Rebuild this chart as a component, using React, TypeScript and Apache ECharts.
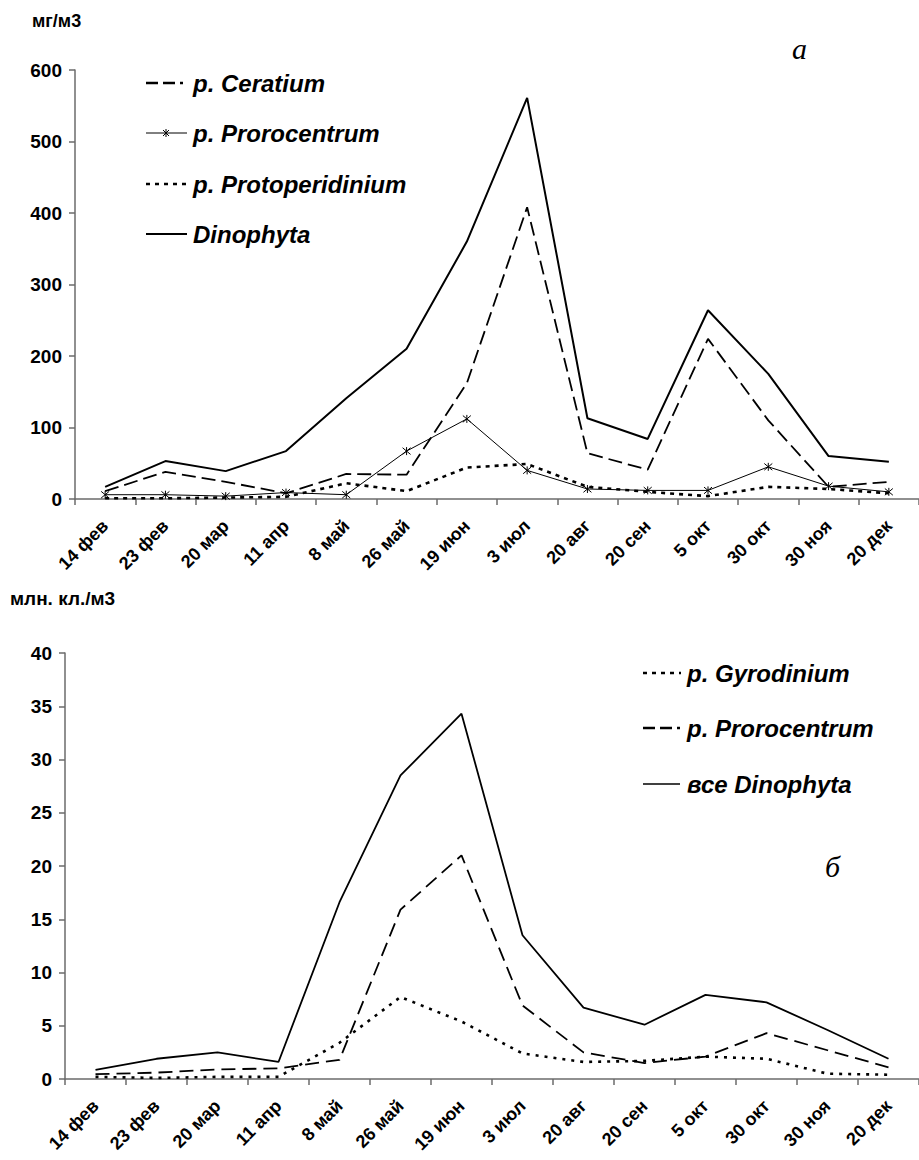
import React, { useEffect, useRef } from "react";
import * as echarts from "echarts";

const categories = [
  "14 фев", "23 фев", "20 мар", "11 апр", "8 май", "26 май", "19 июн",
  "3 июл", "20 авг", "20 сен", "5 окт", "30 окт", "30 ноя", "20 дек",
];

// Panel a (мг/м3)
const ceratium = [11, 38, 24, 8, 35, 34, 162, 408, 64, 41, 224, 110, 17, 24];
const prorocentrumA = [6, 6, 4, 9, 6, 67, 112, 40, 14, 12, 12, 45, 18, 10];
const protoperidinium = [1, 1, 2, 3, 22, 11, 44, 49, 17, 10, 4, 17, 14, 8];
const dinophytaA = [17, 53, 39, 67, 141, 210, 360, 561, 113, 84, 264, 175, 60, 52];

// Panel б (млн. кл./м3)
const gyrodinium = [0.2, 0.1, 0.2, 0.2, 3.4, 7.7, 5.4, 2.4, 1.6, 1.7, 2.1, 1.9, 0.5, 0.4];
const prorocentrumB = [0.45, 0.6, 0.9, 1.0, 1.8, 15.9, 21, 6.9, 2.5, 1.5, 2.1, 4.3, 2.7, 1.1];
const dinophytaB = [0.85, 1.9, 2.5, 1.6, 16.6, 28.5, 34.3, 13.5, 6.7, 5.1, 7.9, 7.2, 4.6, 1.9];

const legendA = ["p. Ceratium", "p. Prorocentrum", "p. Protoperidinium", "Dinophyta"];
const legendB = ["p. Gyrodinium", "p. Prorocentrum", "все Dinophyta"];

const SANS = '"Liberation Sans", Arial, sans-serif';
const AXIS_COLOR = "#6b6b6b";
const STAR = "path://M0,0L10,10M10,0L0,10M5,-1L5,11";

function xAxisCfg(gridIndex: number) {
  return {
    type: "category",
    gridIndex,
    data: categories,
    boundaryGap: true,
    axisLine: { lineStyle: { color: AXIS_COLOR, width: 1.5 } },
    axisTick: { show: true, length: 6, lineStyle: { color: AXIS_COLOR, width: 1.5 } },
    axisLabel: {
      interval: 0,
      rotate: 45,
      margin: 24,
      color: "#000",
      fontFamily: SANS,
      fontWeight: "bold",
      fontSize: 18,
    },
    splitLine: { show: false },
  };
}

function yAxisCfg(gridIndex: number, max: number, interval: number) {
  return {
    type: "value",
    gridIndex,
    min: 0,
    max,
    interval,
    axisLine: { show: true, lineStyle: { color: AXIS_COLOR, width: 1.5 } },
    axisTick: { show: true, length: 6, lineStyle: { color: AXIS_COLOR, width: 1.5 } },
    axisLabel: {
      margin: 13,
      color: "#000",
      fontFamily: SANS,
      fontWeight: "bold",
      fontSize: 19,
    },
    splitLine: { show: false },
  };
}

function legendText(text: string, x: number, y: number) {
  return {
    type: "text",
    style: {
      text,
      x,
      y,
      fill: "#000",
      font: `italic bold 24px ${SANS}`,
      verticalAlign: "middle",
    },
  };
}

function legendLine(x1: number, x2: number, y: number, width: number, dash?: number[]) {
  return {
    type: "line",
    shape: { x1, y1: y, x2, y2: y },
    style: { stroke: "#000", lineWidth: width, lineDash: dash || null },
  };
}

export default function App() {
  const ref = useRef<HTMLDivElement>(null);

  useEffect(() => {
    if (!ref.current) return;
    const chart = echarts.init(ref.current, undefined, { renderer: "svg" });

    const option: any = {
      animation: false,
      backgroundColor: "#fff",
      grid: [
        { left: 75, top: 70, right: -17, height: 429, containLabel: false },
        { left: 65, top: 653, right: -17, height: 426, containLabel: false },
      ],
      xAxis: [xAxisCfg(0), xAxisCfg(1)],
      yAxis: [yAxisCfg(0, 600, 100), yAxisCfg(1, 40, 5)],
      series: [
        {
          name: legendA[0], type: "line", xAxisIndex: 0, yAxisIndex: 0,
          data: ceratium, symbol: "none",
          lineStyle: { color: "#000", width: 1.8, type: [14, 6] },
        },
        {
          name: legendA[1], type: "line", xAxisIndex: 0, yAxisIndex: 0,
          data: prorocentrumA, symbol: STAR, symbolSize: 8, showSymbol: true,
          itemStyle: { color: "none", borderColor: "#000", borderWidth: 1 },
          lineStyle: { color: "#000", width: 1 },
        },
        {
          name: legendA[2], type: "line", xAxisIndex: 0, yAxisIndex: 0,
          data: protoperidinium, symbol: "none",
          lineStyle: { color: "#000", width: 2.6, type: [4, 5] },
        },
        {
          name: legendA[3], type: "line", xAxisIndex: 0, yAxisIndex: 0,
          data: dinophytaA, symbol: "none",
          lineStyle: { color: "#000", width: 2 },
        },
        {
          name: legendB[0], type: "line", xAxisIndex: 1, yAxisIndex: 1,
          data: gyrodinium, symbol: "none",
          lineStyle: { color: "#000", width: 2.6, type: [3, 6] },
        },
        {
          name: legendB[1], type: "line", xAxisIndex: 1, yAxisIndex: 1,
          data: prorocentrumB, symbol: "none",
          lineStyle: { color: "#000", width: 1.8, type: [14, 7] },
        },
        {
          name: legendB[2], type: "line", xAxisIndex: 1, yAxisIndex: 1,
          data: dinophytaB, symbol: "none",
          lineStyle: { color: "#000", width: 1.8 },
        },
      ],
      graphic: [
        // axis unit labels
        {
          type: "text",
          style: { text: "мг/м3", x: 32, y: 21, fill: "#000", font: `bold 18px ${SANS}`, verticalAlign: "middle" },
        },
        {
          type: "text",
          style: { text: "млн. кл./м3", x: 10, y: 598, fill: "#000", font: `bold 19px ${SANS}`, verticalAlign: "middle" },
        },
        // panel letters
        {
          type: "text",
          style: { text: "а", x: 792, y: 48, fill: "#000", font: `italic 30px "Liberation Serif", serif`, verticalAlign: "middle" },
        },
        {
          type: "text",
          style: { text: "б", x: 825, y: 866, fill: "#000", font: `italic 30px "Liberation Serif", serif`, verticalAlign: "middle" },
        },
        // legend a
        legendLine(146, 183, 83, 2.5, [12, 5]),
        legendText(legendA[0], 193, 83),
        legendLine(146, 187, 133, 1),
        { type: "line", shape: { x1: 163, y1: 130, x2: 169, y2: 136 }, style: { stroke: "#000", lineWidth: 1 } },
        { type: "line", shape: { x1: 169, y1: 130, x2: 163, y2: 136 }, style: { stroke: "#000", lineWidth: 1 } },
        { type: "line", shape: { x1: 166, y1: 129, x2: 166, y2: 137 }, style: { stroke: "#000", lineWidth: 1 } },
        legendText(legendA[1], 193, 133),
        legendLine(146, 187, 184, 2.5, [4, 5]),
        legendText(legendA[2], 193, 184),
        legendLine(146, 187, 234, 2),
        legendText(legendA[3], 193, 234),
        // legend б
        legendLine(643, 681, 673, 2.5, [4, 5]),
        legendText(legendB[0], 687, 673),
        legendLine(643, 680, 728, 2.5, [12, 5]),
        legendText(legendB[1], 687, 728),
        legendLine(643, 680, 784, 1.5),
        legendText(legendB[2], 687, 784),
      ],
    };

    chart.setOption(option);
    return () => chart.dispose();
  }, []);

  return (
    <div
      ref={ref}
      style={{ position: "absolute", left: 0, top: 0, width: 919, height: 1160, background: "#fff" }}
    />
  );
}
